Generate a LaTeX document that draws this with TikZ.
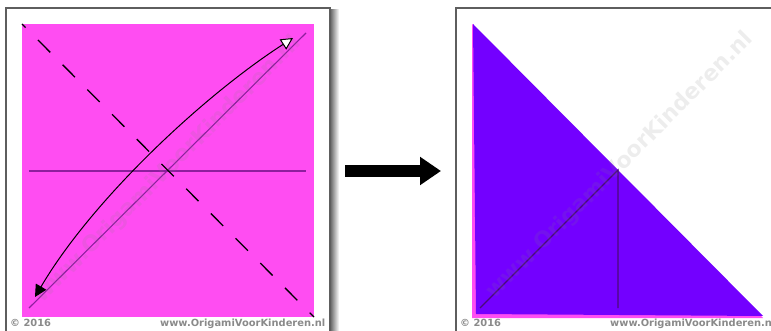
\documentclass[tikz,border=0pt]{standalone}
\usepackage{fontspec}
\setmainfont{DejaVu Sans}
\usetikzlibrary{arrows.meta}

\definecolor{paperpink}{HTML}{FF4DF2}
\definecolor{paperviolet}{HTML}{7300FF}
\definecolor{creasepink}{HTML}{8E1E9E}
\definecolor{creaseviolet}{HTML}{4A0A7A}
\definecolor{framegray}{HTML}{5E5E5E}
\definecolor{creditgray}{HTML}{8A8A8A}

\begin{document}
\begin{tikzpicture}[
    x=1pt, y=-1pt,
    frame width/.store in=\fw, frame width=2.5pt,
    head size/.store in=\hsize, head size=12pt,
    crease/.style={line width=1.1pt},
    credit/.style={text=creditgray, inner sep=0pt,
        font=\fontsize{9.9}{10}\selectfont\bfseries},
    watermark/.style={text=gray, opacity=0.14, rotate=45, inner sep=0pt,
        font=\fontsize{22}{22}\selectfont\bfseries}
]
\useasboundingbox (0,0) rectangle (771,331);

% Helper macro for the credit line under a panel
\newcommand{\panelcredit}[3]{% name, x of year, x of site
    \node[credit, anchor=base west] (#1year) at (#2,326) {© 2016};
    \node[credit, anchor=base west] (#1site) at (#3,326) {www.OrigamiVoorKinderen.nl};
}

% Panel 1: square with creases
\shade[left color=black!55, right color=white] (331,10) rectangle (339,331);
\draw[framegray, line width=\fw] (6,8) rectangle (330,345);
\fill[paperpink] (22,24) rectangle (314,317);
\draw[crease, creasepink] (29,171) -- (306,171);
\draw[crease, creasepink] (29,308) -- (306,33);
\draw[line width=1.3pt, dash pattern=on 17.5pt off 17.5pt, dash phase=12.4pt]
    (22,24) -- (314,317);
\node[watermark] (markL) at (168,170) {www.OrigamiVoorKinderen.nl};

% fold arrow
\coordinate (foldfrom) at (293,38);
\coordinate (foldto) at (35,297);
\draw[line width=1pt,
    {Triangle[fill=white, length=\hsize, width=\hsize]}-{Triangle[length=\hsize, width=\hsize]}]
    (foldfrom) .. controls (203,96) and (92,200) .. (foldto);
\panelcredit{left}{10}{160}

% Step arrow
\coordinate (stepfrom) at (345,171);
\coordinate (stepto) at (441,171);
\draw[line width=12pt, -{Triangle[length=21pt, width=27pt]}] (stepfrom) -- (stepto);

% Panel 2: folded triangle
\draw[framegray, line width=\fw] (456,8) rectangle (800,345);
\fill[paperpink] (472,24) -- (472,318) -- (763,318) -- cycle;
\fill[paperviolet] (473,24) -- (476,314) -- (763,316) -- cycle;
\draw[crease, creaseviolet] (480,308) -- (618,170) -- (618,308);
\node[watermark] (markR) at (620,166) {www.OrigamiVoorKinderen.nl};
\panelcredit{right}{460}{610}

\end{tikzpicture}
\end{document}
